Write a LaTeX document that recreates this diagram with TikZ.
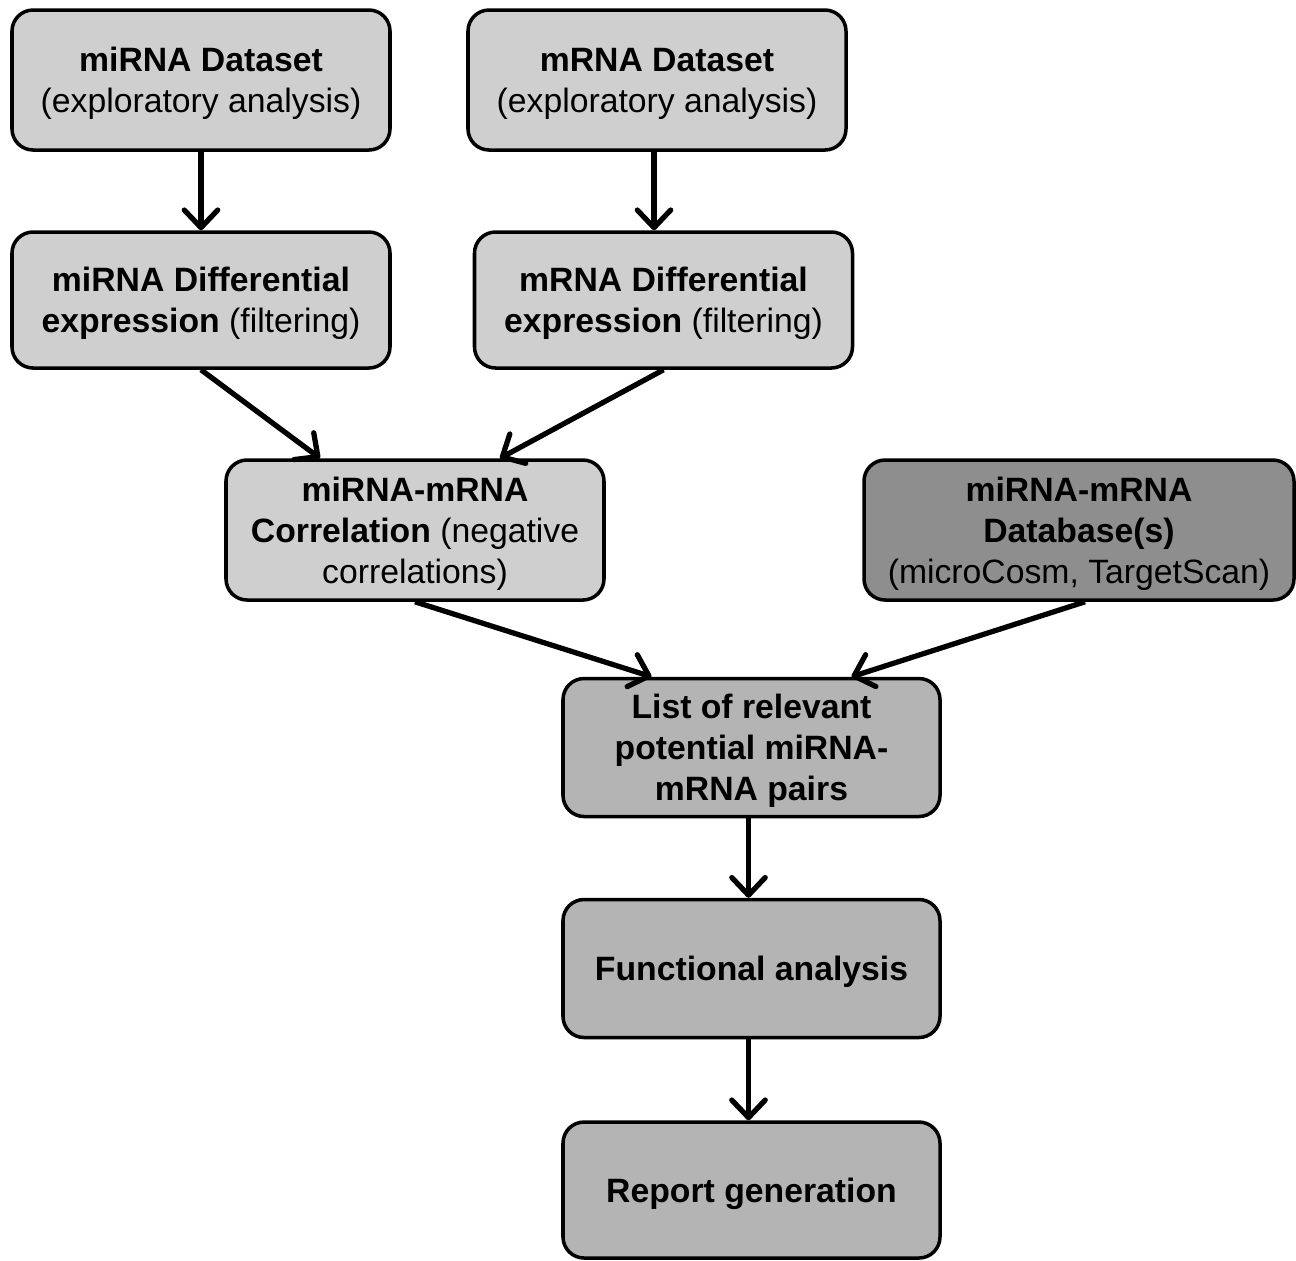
\documentclass[tikz,border=0pt]{standalone}
\usepackage{fontspec}
\setmainfont{Liberation Sans}
\usepackage{tikz}
\usetikzlibrary{arrows.meta,positioning}
\usepackage{xcolor}
\definecolor{lightbox}{HTML}{CFCFCF}
\definecolor{midbox}{HTML}{B4B4B4}
\definecolor{darkbox}{HTML}{8E8E8E}

\begin{document}
\begin{tikzpicture}[
    block/.style={
      rectangle, draw=black, fill=lightbox, line width=1pt,
      minimum height=1.4cm, minimum width=3.78cm, text depth=-2pt,
      align=center, font=\fontsize{9.6}{11.7}\selectfont, rounded corners=6pt,
      inner sep=2pt
    },
    stage/.style={block, fill=midbox, minimum width=3.77cm, minimum height=1.38cm},
    dbbox/.style={block, fill=darkbox, minimum width=4.3cm},
    arrow/.style={-{Straight Barb[length=5pt, width=9.5pt, round]}, line width=1.5pt}
  ]
  \useasboundingbox (0,0) rectangle (12.96,-12.60);
  % Nodes -- datasets
  \node[block] (dsmi) at (2.01,-0.80) {\textbf{miRNA Dataset}\\ (exploratory analysis)};
  \node[block] (dsm) at (6.57,-0.80) {\textbf{mRNA Dataset}\\ (exploratory analysis)};
  % differential expression
  \node[block, minimum height=1.36cm] (demi) at (2.01,-3.00) {\textbf{miRNA Differential}\\ \textbf{expression} (filtering)};
  \node[block, minimum height=1.36cm] (dem) at (6.635,-3.00) {\textbf{mRNA Differential}\\ \textbf{expression} (filtering)};
  % correlation and database
  \node[block] (corr) at (4.15,-5.30) {\textbf{miRNA-mRNA}\\ \textbf{Correlation} (negative\\ correlations)};
  \node[dbbox] (db) at (10.79,-5.30) {\textbf{miRNA-mRNA}\\ \textbf{Database(s)}\\ (microCosm, TargetScan)};
  % downstream steps
  \node[stage] (pairs) at (7.515,-7.475) {\textbf{List of relevant}\\ \textbf{potential miRNA-}\\ \textbf{mRNA pairs}};
  \node[stage] (func) at (7.515,-9.685) {\textbf{Functional analysis}};
  \node[stage, minimum height=1.36cm] (rep) at (7.515,-11.90) {\textbf{Report generation}};
  % Arrows
  \draw[arrow] (dsmi) -- (demi);
  \draw[arrow] ([xshift=-0.03cm]dsm.south) -- ([xshift=-0.03cm]dsm.south |- dem.north);
  \draw[arrow] (demi.south) -- ([xshift=-0.95cm]corr.north);
  \draw[arrow] (dem.south) -- ([xshift=0.85cm]corr.north);
  \draw[arrow] (corr.south) -- ([xshift=-1.0cm]pairs.north);
  \draw[arrow] ([xshift=0.06cm]db.south) -- ([xshift=1.0cm]pairs.north);
  \draw[arrow] ([xshift=-0.03cm]pairs.south) -- ([xshift=-0.03cm]func.north);
  \draw[arrow] ([xshift=-0.03cm]func.south) -- ([xshift=-0.03cm]rep.north);
\end{tikzpicture}
\end{document}
